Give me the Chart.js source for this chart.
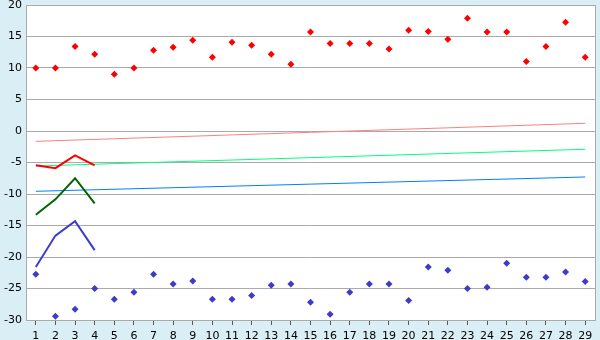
<!DOCTYPE html>
<html>
<head>
<meta charset="utf-8">
<script src="https://cdn.jsdelivr.net/npm/chart.js@4/dist/chart.umd.min.js"></script>
<style>
  body { margin: 0; background: #d9eff5; }
  canvas { display: block; }
</style>
</head>
<body>
<canvas id="myChart" width="600" height="340"></canvas>
<script>
// day numbers on the x axis
const days = ['1','2','3','4','5','6','7','8','9','10','11','12','13','14','15',
              '16','17','18','19','20','21','22','23','24','25','26','27','28','29'];

// red scatter dots (top)
const redDots = [10, 10, 13.4, 12.2, 9.0, 10, 12.8, 13.3, 14.4, 11.7,
                 14.1, 13.6, 12.2, 10.6, 15.7, 13.9, 13.9, 13.9, 13.0, 16.0,
                 15.8, 14.55, 17.9, 15.7, 15.7, 11.05, 13.4, 17.25, 11.7];

// blue scatter dots (bottom)
const blueDots = [-22.75, -29.4, -28.3, -25.0, -26.7, -25.6, -22.75, -24.3, -23.8, -26.7,
                  -26.7, -26.1, -24.5, -24.3, -27.2, -29.1, -25.6, -24.3, -24.3, -26.9,
                  -21.6, -22.1, -25.0, -24.8, -21.0, -23.2, -23.2, -22.4, -23.9];

// short lines over the first four days
const redLine = [-5.45, -5.9, -3.86, -5.45];
const greenLine = [-13.3, -10.85, -7.5, -11.5];
const blueLine = [-21.6, -16.6, -14.3, -18.9];

// trend lines: value at day 1 and at day 29
const pinkTrend = [-1.64, 1.22];
const mintTrend = [-5.56, -2.9];
const skyTrend = [-9.57, -7.3];

const yTicks = [20, 15, 10, 5, 0, -5, -10, -15, -20, -25, -30];

function trend(ends) {
  let arr = days.map(() => null);
  arr[0] = ends[0];
  arr[arr.length - 1] = ends[1];
  return arr;
}

const bgPlugin = {
  id: 'bg',
  beforeDraw: (chart) => {
    let ctx = chart.ctx, a = chart.chartArea;
    ctx.save();
    ctx.fillStyle = '#d9eff5';
    ctx.fillRect(0, 0, chart.width, chart.height);
    ctx.fillStyle = '#ffffff';
    ctx.fillRect(a.left, a.top, a.right - a.left, a.bottom - a.top);
    ctx.restore();
  },
  beforeDatasetsDraw: (chart) => {
    let ctx = chart.ctx, a = chart.chartArea;
    ctx.save();
    ctx.strokeStyle = '#aaaaaa';
    ctx.lineWidth = 1;
    ctx.strokeRect(Math.round(a.left) + 0.5, Math.round(a.top) + 0.5,
                   Math.round(a.right - a.left), Math.round(a.bottom - a.top));
    ctx.restore();
  }
};

const dots = { showLine: false, pointStyle: 'rectRot', pointRadius: 3.5, pointBorderWidth: 0 };
const thick = { pointRadius: 0, borderWidth: 2, tension: 0 };
const thin = { pointRadius: 0, borderWidth: 1, tension: 0, spanGaps: true };

let chart = new Chart(document.getElementById('myChart').getContext('2d'), {
  type: 'line',
  data: {
    labels: days,
    datasets: [
      { data: redDots, backgroundColor: '#ff0000', borderColor: '#ff0000', ...dots },
      { data: blueDots, backgroundColor: '#3c3cc8', borderColor: '#3c3cc8', ...dots },
      { data: redLine, borderColor: '#ff0000', ...thick },
      { data: greenLine, borderColor: '#006400', ...thick },
      { data: blueLine, borderColor: '#3c3ccc', ...thick },
      { data: trend(pinkTrend), borderColor: '#ff8080', ...thin },
      { data: trend(mintTrend), borderColor: '#00ff80', ...thin },
      { data: trend(skyTrend), borderColor: '#0080ff', ...thin }
    ]
  },
  options: {
    responsive: false,
    animation: false,
    layout: { padding: { top: 0, right: 5, left: 0, bottom: 0 } },
    plugins: { legend: { display: false }, tooltip: { enabled: false } },
    scales: {
      x: {
        offset: true,
        afterFit: (s) => { s.height = 20; },
        grid: { offset: false, drawOnChartArea: false, drawTicks: true, tickLength: 5, color: '#555555' },
        border: { display: false },
        ticks: { color: '#000', padding: 5, maxRotation: 0, autoSkip: false, font: { family: 'DejaVu Sans', size: 11 } }
      },
      y: {
        min: -30,
        max: 20,
        afterFit: (s) => { s.width = 26; s.paddingTop = 5; s.paddingBottom = 0; },
        afterBuildTicks: (s) => { s.ticks = yTicks.map(v => ({ value: v })); },
        grid: { color: '#aaaaaa', drawTicks: false },
        border: { display: false },
        ticks: { color: '#000', padding: 4, font: { family: 'DejaVu Sans', size: 11 } }
      }
    }
  },
  plugins: [bgPlugin]
});
</script>
</body>
</html>
